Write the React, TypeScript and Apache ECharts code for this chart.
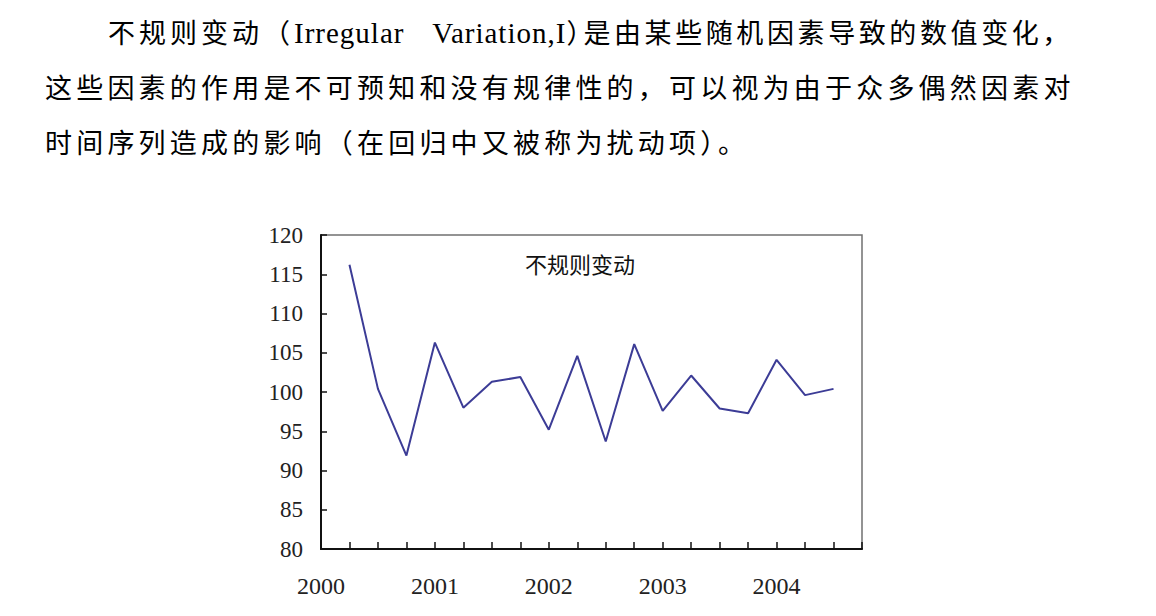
import React, { useEffect, useRef } from "react";
import * as echarts from "echarts";

// ---- data ----
const yearLabels = ["2000", "2001", "2002", "2003", "2004"];
// quarterly irregular component, periods 1..18
const irregularValues = [
  116.2, 100.4, 91.9, 106.3, 98.0, 101.3, 101.9, 95.2, 104.6, 93.7, 106.1,
  97.6, 102.1, 97.9, 97.3, 104.1, 99.6, 100.4,
];
const yTickValues = [80, 85, 90, 95, 100, 105, 110, 115, 120];
const chartTitle = "不规则变动";

const line1a = "不规则变动（";
const line1b = "Irregular Variation,I";
const line1c = "）";
const line1d = "是由某些随机因素导致的数值变化，";
const line2 = "这些因素的作用是不可预知和没有规律性的，可以视为由于众多偶然因素对";
const line3 = "时间序列造成的影响（在回归中又被称为扰动项）。";

const cjkFont = '"Noto Sans CJK SC", sans-serif';
const serifFont = '"Liberation Serif", "Times New Roman", serif';

const lineStyle = (left: number, top: number): React.CSSProperties => ({
  position: "absolute",
  left,
  top,
  fontSize: 27,
  lineHeight: "30px",
  fontFamily: cjkFont,
  whiteSpace: "nowrap",
  color: "#000",
});

export default function App() {
  const ref = useRef<HTMLDivElement>(null);

  useEffect(() => {
    if (!ref.current) return;
    const chart = echarts.init(ref.current, undefined, { renderer: "svg" });
    const data = irregularValues.map((v, i) => [i + 1, v]);
    chart.setOption({
      animation: false,
      backgroundColor: "#ffffff",
      grid: {
        left: 321,
        right: 294,
        top: 235,
        bottom: 67,
        show: true,
        borderColor: "#707070",
        borderWidth: 1.5,
        backgroundColor: "transparent",
      },
      xAxis: {
        type: "value",
        min: 0,
        max: 19,
        interval: 1,
        axisLine: { show: true, lineStyle: { color: "#111", width: 2 } },
        axisTick: {
          show: true,
          inside: true,
          length: 7,
          lineStyle: { color: "#111", width: 1.5 },
        },
        splitLine: { show: false },
        axisLabel: {
          margin: 25,
          color: "#222",
          fontSize: 24,
          fontFamily: serifFont,
          formatter: (v: number) =>
            v % 4 === 0 && v / 4 < yearLabels.length ? yearLabels[v / 4] : "",
        },
      },
      yAxis: {
        type: "value",
        min: yTickValues[0],
        max: yTickValues[yTickValues.length - 1],
        interval: 5,
        axisLine: { show: true, lineStyle: { color: "#111", width: 2 } },
        axisTick: {
          show: true,
          inside: true,
          length: 6,
          lineStyle: { color: "#111", width: 1.5 },
        },
        splitLine: { show: false },
        axisLabel: {
          margin: 18,
          color: "#222",
          fontSize: 23,
          fontFamily: serifFont,
        },
      },
      series: [
        {
          type: "line",
          data,
          symbol: "none",
          lineStyle: { color: "#3c3c96", width: 2 },
        },
      ],
      graphic: [
        {
          type: "text",
          x: 580,
          y: 263,
          style: {
            text: chartTitle,
            fontSize: 22,
            fontFamily: cjkFont,
            fill: "#111",
            align: "center",
            verticalAlign: "middle",
          },
        },
      ],
    });
    return () => chart.dispose();
  }, []);

  return (
    <div
      style={{
        position: "fixed",
        left: 0,
        top: 0,
        width: 1156,
        height: 616,
        background: "#fff",
        overflow: "hidden",
      }}
    >
      <div
        ref={ref}
        style={{ position: "absolute", left: 0, top: 0, width: 1156, height: 616 }}
      />
      <div style={lineStyle(108, 17)}>
        <span style={{ letterSpacing: 4 }}>{line1a}</span>
        <span
          style={{
            fontFamily: serifFont,
            fontSize: 29,
            letterSpacing: 1,
            wordSpacing: 20,
          }}
        >
          {line1b}
        </span>
        <span style={{ letterSpacing: -10 }}>{line1c}</span>
        <span style={{ letterSpacing: 3.6 }}>{line1d}</span>
      </div>
      <div style={{ ...lineStyle(45, 72), letterSpacing: 4.2 }}>{line2}</div>
      <div style={{ ...lineStyle(45, 127), letterSpacing: 4.2 }}>{line3}</div>
    </div>
  );
}
